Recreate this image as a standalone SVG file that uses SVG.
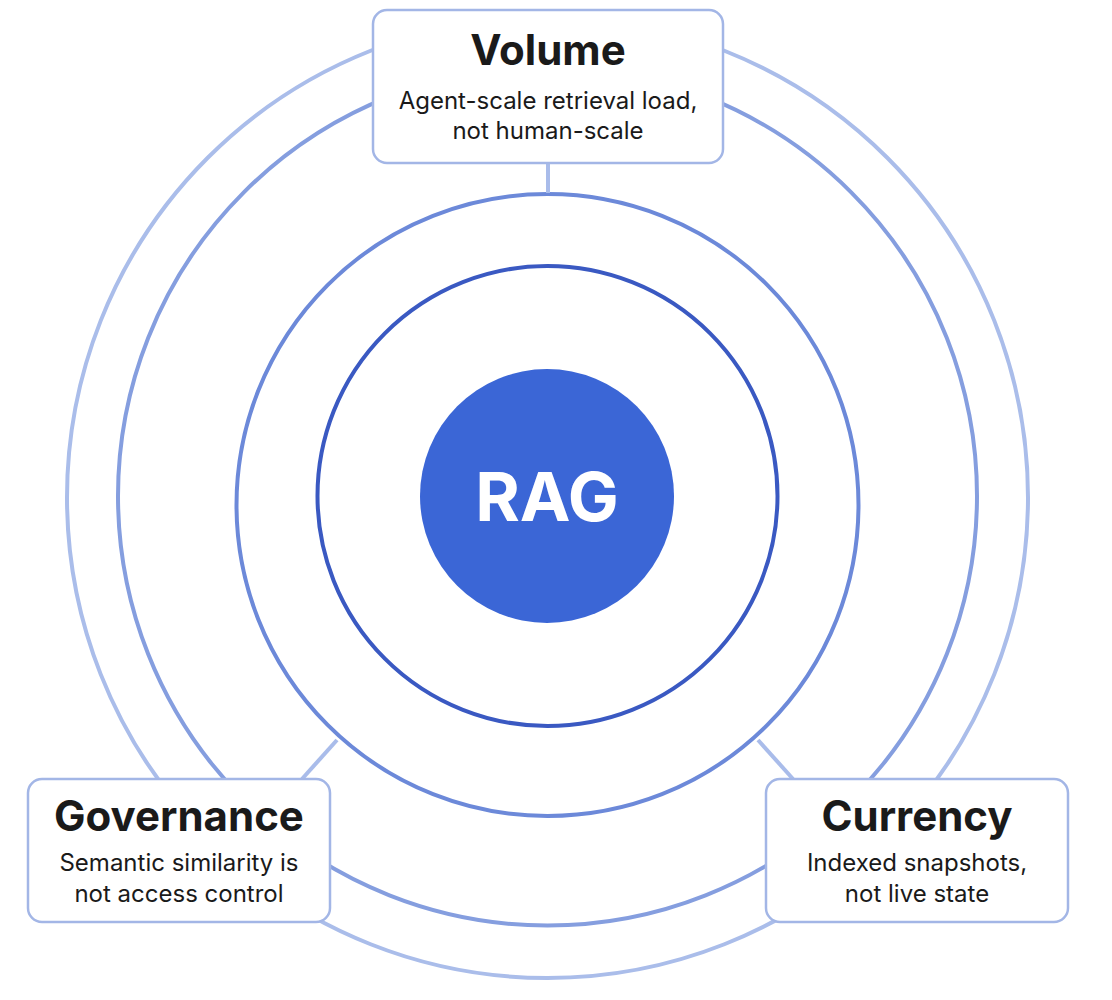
<svg xmlns="http://www.w3.org/2000/svg" width="1112" height="1000" viewBox="0 0 1112 1000">
<style>
.ring{fill:none;stroke-width:4}
.conn{stroke:#A9BCEA;stroke-width:4;fill:none}
.box{fill:#fff;stroke:#A3B6E6;stroke-width:2.5}
.title{font-family:Inter,"Liberation Sans",sans-serif;font-weight:700;font-size:42px;fill:#1a1a1a;text-anchor:middle}
.sub{font-family:Inter,"Liberation Sans",sans-serif;font-weight:400;font-size:24px;fill:#1a1a1a;text-anchor:middle}
</style>
<rect width="1112" height="1000" fill="#fff"/>
<g id="rings">
<circle class="ring" cx="547.5" cy="497.5" r="480.5" stroke="#AABDEA"/>
<circle class="ring" cx="547.5" cy="496" r="429.5" stroke="#859EDF"/>
<circle class="ring" cx="547.5" cy="505" r="311" stroke="#6C89D9"/>
<circle class="ring" cx="547.5" cy="496" r="230" stroke="#3A59C2"/>
</g>
<g id="connectors">
<line class="conn" x1="548" y1="163" x2="548" y2="193"/>
<line class="conn" x1="337" y1="740" x2="302" y2="779"/>
<line class="conn" x1="758" y1="740" x2="793" y2="779"/>
</g>
<g id="rag">
<circle cx="547" cy="496" r="127" fill="#3B66D6"/>
<text x="547" y="521" font-family="Inter,'Liberation Sans',sans-serif" font-weight="700" font-size="68" fill="#fff" text-anchor="middle">RAG</text>
</g>
<g id="volume">
<rect class="box" x="373" y="10" width="350" height="153" rx="14"/>
<text class="title" x="548" y="65">Volume</text>
<text class="sub" x="548" y="109">Agent-scale retrieval load,</text>
<text class="sub" x="548" y="139">not human-scale</text>
</g>
<g id="governance">
<rect class="box" x="28" y="779" width="302" height="143" rx="14"/>
<text class="title" x="179" y="831">Governance</text>
<text class="sub" x="179" y="871">Semantic similarity is</text>
<text class="sub" x="179" y="902">not access control</text>
</g>
<g id="currency">
<rect class="box" x="766" y="779" width="302" height="143" rx="14"/>
<text class="title" x="917" y="831">Currency</text>
<text class="sub" x="917" y="871">Indexed snapshots,</text>
<text class="sub" x="917" y="902">not live state</text>
</g>
</svg>
